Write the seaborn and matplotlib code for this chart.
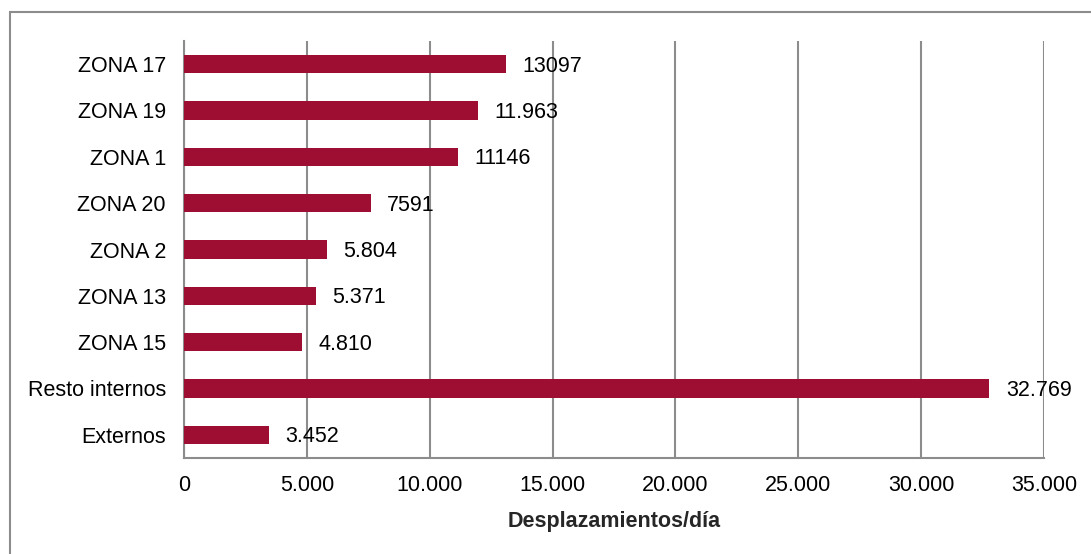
import matplotlib
matplotlib.use("Agg")
import matplotlib.pyplot as plt
import seaborn as sns
import pandas as pd
from matplotlib.patches import Rectangle
from matplotlib.ticker import FuncFormatter

categories = ["ZONA 17", "ZONA 19", "ZONA 1", "ZONA 20", "ZONA 2",
              "ZONA 13", "ZONA 15", "Resto internos", "Externos"]
values = [13097, 11963, 11146, 7591, 5804, 5371, 4810, 32769, 3452]
value_labels = ["13097", "11.963", "11146", "7591", "5.804",
                "5.371", "4.810", "32.769", "3.452"]
x_ticks = [0, 5000, 10000, 15000, 20000, 25000, 30000, 35000]
x_label = "Desplazamientos/día"

sns.set_theme(style="white")
plt.rcParams['font.family'] = ['Liberation Sans', 'DejaVu Sans']

FS = 15.5
W, H = 1091, 554
fig = plt.figure(figsize=(W / 100, H / 100), dpi=100)
ax = fig.add_axes([184 / W, 1 - 458 / H, (1044 - 184) / W, (458 - 41) / H])

df = pd.DataFrame({"cat": categories, "val": values})
sns.barplot(data=df, x="val", y="cat", orient="h", color="#9E0E32",
            width=0.4, saturation=1, linewidth=0, ax=ax, zorder=3)

ax.set_xlim(0, 35000)
ax.set_ylim(8.5, -0.5)
ax.set_xticks(x_ticks)
ax.xaxis.set_major_formatter(FuncFormatter(lambda v, p: f"{int(v):,}".replace(",", ".")))
ax.grid(axis="x", color="#8c8c8c", linewidth=1.5, zorder=0)
ax.grid(axis="y", visible=False)
for s in ["top", "right"]:
    ax.spines[s].set_visible(False)
for s in ["left", "bottom"]:
    ax.spines[s].set_color("#8c8c8c")
    ax.spines[s].set_linewidth(1.5)
ax.tick_params(axis="both", length=0, labelsize=FS, colors="black")
ax.tick_params(axis="y", pad=13)
ax.tick_params(axis="x", pad=12)
ax.set_ylabel("")
ax.set_xlabel(x_label, fontsize=FS, fontweight="bold", labelpad=11)

for i, (v, lab) in enumerate(zip(values, value_labels)):
    ax.annotate(lab, xy=(v, i), xytext=(12, -1.5), textcoords="offset points",
                va="center", ha="left", fontsize=FS, color="black", zorder=5)

fig.patches.append(Rectangle((10 / W, -0.1), 1.2, 1 - 12 / H + 0.1,
                             transform=fig.transFigure, fill=False,
                             edgecolor="#8c8c8c", linewidth=1.5))

fig.savefig("out.png", dpi=100, facecolor="white")
